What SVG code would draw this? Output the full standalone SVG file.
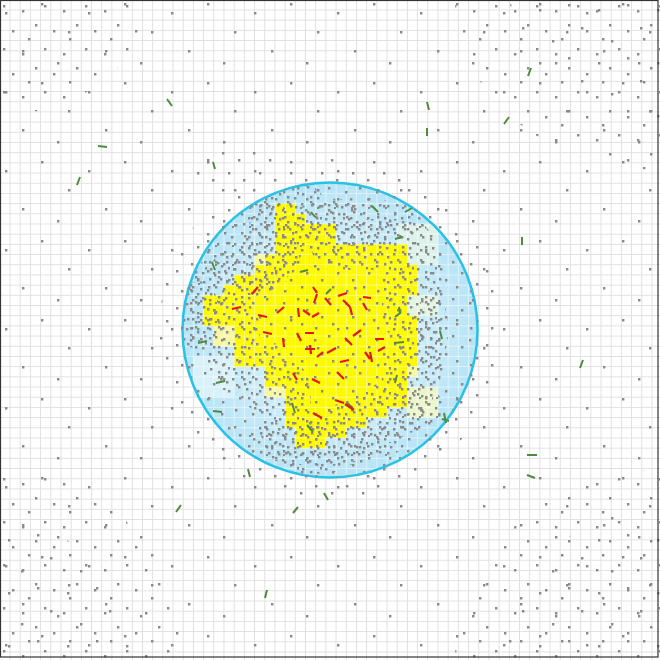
<svg xmlns="http://www.w3.org/2000/svg" width="660" height="660" viewBox="0 0 660 660">
<style>
.dot{fill:#8a8a8a}
.red{fill:none;stroke:#e3161b;stroke-width:2.2}
.grn{fill:none;stroke:#4f8b3f;stroke-width:2}
</style>
<defs>
<pattern id="grid" patternUnits="userSpaceOnUse" x="-5.3" y="-5.3" width="10.19" height="10.19"><path d="M5.095 0V10.19M0 5.095H10.19" stroke="#e0e0e0" stroke-width="1"/></pattern>
<pattern id="gridW" patternUnits="userSpaceOnUse" x="-5.3" y="-5.3" width="10.19" height="10.19"><path d="M5.095 0V10.19M0 5.095H10.19" stroke="#ffffff" stroke-opacity="0.5" stroke-width="1"/></pattern>
<radialGradient id="blue" gradientUnits="userSpaceOnUse" cx="330" cy="330" r="148"><stop offset="0" stop-color="#e0f5fb"/><stop offset="0.6" stop-color="#cdedf9"/><stop offset="1" stop-color="#b7e4f6"/></radialGradient>
<pattern id="pA" patternUnits="userSpaceOnUse" width="83" height="79"><path class="dot" d="M5 12h2.4v2.4h-2.4zM41 3h2.4v2.4h-2.4zM68 31h2.4v2.4h-2.4zM22 50h2.4v2.4h-2.4zM57 62h2.4v2.4h-2.4z"/></pattern>
<pattern id="pB" patternUnits="userSpaceOnUse" width="41" height="43"><path class="dot" d="M3 5h2.4v2.4h-2.4zM22 10h2.4v2.4h-2.4zM35 24h2.4v2.4h-2.4zM12 30h2.4v2.4h-2.4zM28 38h2.4v2.4h-2.4z"/></pattern>
<pattern id="pB2" patternUnits="userSpaceOnUse" width="59" height="53"><path class="dot" d="M8 9h2.4v2.4h-2.4zM37 4h2.4v2.4h-2.4zM50 27h2.4v2.4h-2.4zM21 40h2.4v2.4h-2.4z"/></pattern>
<pattern id="pC" patternUnits="userSpaceOnUse" width="31" height="37"><path class="dot" d="M5 4h2.4v2.4h-2.4zM21 11h2.4v2.4h-2.4zM11 24h2.4v2.4h-2.4zM26 31h2.4v2.4h-2.4z"/></pattern>
<pattern id="pD" patternUnits="userSpaceOnUse" width="31" height="37"><path class="dot" d="M4 6h2.4v2.4h-2.4zM18 2h2.4v2.4h-2.4zM27 13h2.4v2.4h-2.4zM11 20h2.4v2.4h-2.4zM22 27h2.4v2.4h-2.4zM5 31h2.4v2.4h-2.4z"/></pattern>
<pattern id="pE" patternUnits="userSpaceOnUse" width="23" height="25"><path class="dot" d="M2 3h2.4v2.4h-2.4zM11 1h2.4v2.4h-2.4zM13 3h2.4v2.4h-2.4zM19 6h2.4v2.4h-2.4zM6 9h2.4v2.4h-2.4zM8 11h2.4v2.4h-2.4zM16 13h2.4v2.4h-2.4zM21 17h2v2.4h-2zM3 18h2.4v2.4h-2.4zM11 21h2.4v2.4h-2.4zM18 22h2.4v2.4h-2.4z"/></pattern>
<pattern id="pF" patternUnits="userSpaceOnUse" width="17" height="19"><path class="dot" d="M3 4h2.4v2.4h-2.4zM10 8h2.4v2.4h-2.4zM5 14h2.4v2.4h-2.4zM13 15h2.4v2.4h-2.4zM11 17h2v2h-2z"/></pattern>
<clipPath id="cIn"><circle cx="330" cy="330" r="146.5"/></clipPath>
<clipPath id="cCorner"><ellipse cx="0" cy="0" rx="145" ry="115"/><ellipse cx="660" cy="0" rx="205" ry="170"/><ellipse cx="0" cy="660" rx="185" ry="190"/><ellipse cx="660" cy="660" rx="205" ry="190"/></clipPath>
<clipPath id="cCorner2"><ellipse cx="660" cy="0" rx="150" ry="120"/><ellipse cx="660" cy="660" rx="160" ry="150"/><ellipse cx="0" cy="660" rx="130" ry="140"/></clipPath>
<mask id="mOut" maskUnits="userSpaceOnUse" x="0" y="0" width="660" height="660"><circle cx="330" cy="330" r="159" fill="none" stroke="#fff" stroke-width="24"/><ellipse cx="235" cy="172" rx="50" ry="22" fill="#fff"/><circle cx="330" cy="330" r="147" fill="#000"/></mask>
<mask id="mBand" maskUnits="userSpaceOnUse" x="0" y="0" width="660" height="660"><path transform="translate(-0.2,-0.2) scale(10.19)" d="M27 20H29V21H30V22H33V24H40V26H41V29H40V31H41V36H40V40H38V41H36V42H34V43H32V44H29V42H28V38H26V36H23V32H20V29H22V28H23V27H25V26H26V25H27Z" fill="none" stroke="#fff" stroke-width="5" stroke-linejoin="round"/></mask>
<mask id="mDense" maskUnits="userSpaceOnUse" x="0" y="0" width="660" height="660"><ellipse cx="250" cy="245" rx="52" ry="50" fill="#fff"/><ellipse cx="355" cy="222" rx="70" ry="24" fill="#fff"/><ellipse cx="198" cy="315" rx="22" ry="34" fill="#fff"/><ellipse cx="325" cy="442" rx="80" ry="24" fill="#fff"/><ellipse cx="415" cy="408" rx="28" ry="24" fill="#fff"/><ellipse cx="432" cy="330" rx="16" ry="40" fill="#fff"/></mask>
</defs>
<g id="background">
<rect x="0" y="0" width="660" height="660" fill="#ffffff"/>
<rect x="0" y="0" width="660" height="660" fill="url(#grid)"/>
</g>
<g id="dish">
<circle cx="330" cy="330" r="147.5" fill="url(#blue)"/>
<g transform="translate(-0.2,-0.2) scale(10.19)">
<path d="M19 35h4v4h-4z" fill="#d9f1f8"/>
<path d="M39 22h4v2h-4zM40 24h3v2h-3z" fill="#dcf2ea"/>
<path d="M40 29h3v2h-3z" fill="#e2f4e0"/>
<path d="M40 38h3v3h-3z" fill="#ecf6cc"/>
<path id="colony" d="M27 20H29V21H30V22H33V24H40V26H41V29H40V31H41V36H40V40H38V41H36V42H34V43H32V44H29V42H28V38H26V36H23V32H20V29H22V28H23V27H25V26H26V25H27Z" fill="#fdf900"/>
<path d="M25 25h1v1h-1zM21 32h2v2h-2zM26 38h2v1h-2zM40 36h1v1h-1z" fill="#f6f8a4"/>
</g>
<rect x="0" y="0" width="660" height="660" fill="url(#gridW)" clip-path="url(#cIn)"/>
<circle cx="330" cy="330" r="147.5" fill="none" stroke="#27c2e6" stroke-width="2.5"/>
</g>
<g id="particles">
<rect x="0" y="0" width="660" height="660" fill="url(#pA)"/>
<rect x="0" y="0" width="660" height="660" fill="url(#pB)" clip-path="url(#cCorner)"/>
<rect x="0" y="0" width="660" height="660" fill="url(#pB2)" clip-path="url(#cCorner2)"/>
<rect x="0" y="0" width="660" height="660" fill="url(#pC)" mask="url(#mOut)"/>
<rect x="0" y="0" width="660" height="660" fill="url(#pD)" clip-path="url(#cIn)"/>
<g clip-path="url(#cIn)"><rect x="0" y="0" width="660" height="660" fill="url(#pE)" mask="url(#mBand)"/></g>
<g clip-path="url(#cIn)"><rect x="0" y="0" width="660" height="660" fill="url(#pF)" mask="url(#mDense)"/></g>
</g>
<g id="green-agents">
<path class="grn" d="M167 99L172 106M98 146L107 147M77 185L80 177M213 162L215 169M427 102L429 110M427 128L427 136M504 124L509 117M528 76L531 68M522 237L522 245M580 368L583 360M527 455L537 455M527 475L535 478M176 512L181 505M248 469L250 477M293 513L298 507M324 493L328 500M265 598L267 590M444 413L446 423M442 419L449 421M372 206L378 212M405 212L412 208M395 239L402 237M212 262L215 270M300 272L308 270M326 294L331 289M311 212L315 217M198 343L207 341M216 383L225 381M399 307L400 313L395 317M394 343L404 342M440 331L442 339M397 375L395 383M292 403L295 413M307 425L313 432M347 403L353 408M213 411L222 412"/>
</g>
<g id="red-agents">
<path class="red" d="M252 294L258 287M232 309L241 307M258 315L267 317M277 313L284 307M298 308L299 317M303 310L310 315M312 317L319 313M313 287L317 293M317 294L314 303M325 298L331 305M338 296L347 293M343 300L350 307M350 307L352 315M363 297L371 298M363 303L367 310M263 332L272 334M283 338L284 347M297 333L301 341M305 333L314 333M305 349L315 349M310 345L311 354M317 357L323 352M327 353L336 348M345 338L352 345M353 336L361 330M375 339L384 339M365 352L370 359M370 352L372 362M378 351L385 347M340 362L349 360M337 372L344 379M312 379L320 383M293 373L297 380M335 400L344 403M345 404L354 410M313 413L322 418"/>
</g>
<rect id="frame" x="0.5" y="0.5" width="657.5" height="656.5" fill="none" stroke="#333333" stroke-width="1.2"/>
</svg>
